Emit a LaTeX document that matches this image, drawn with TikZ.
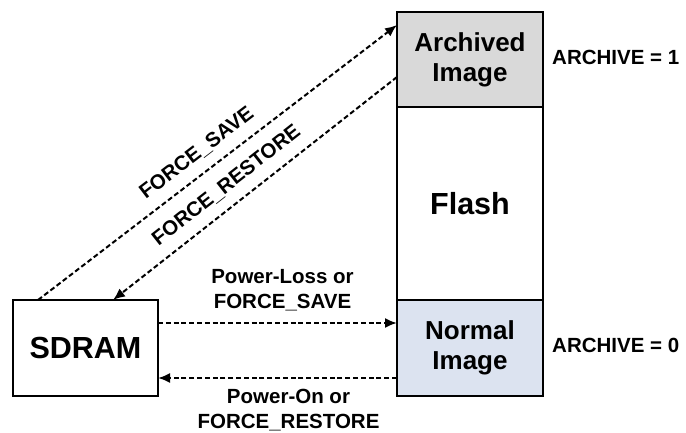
\documentclass[tikz,border=0pt]{standalone}
\usepackage{fontspec}
\setmainfont{Liberation Sans}
\usetikzlibrary{arrows.meta,calc}
\definecolor{archfill}{RGB}{217,217,217}
\definecolor{normfill}{RGB}{220,227,240}
\begin{document}
\begin{tikzpicture}[x=1pt,y=-1pt,
  box/.style={draw=black,line width=2pt,inner sep=0pt,outer sep=0pt,align=center,
    font=\bfseries\fontsize{26}{30}\selectfont},
  bigtext/.style={font=\bfseries\fontsize{30.5}{34}\selectfont},
  conn/.style={line width=2pt,dash pattern=on 5pt off 2.8pt,
    -{Latex[length=12pt,width=10pt]}},
  lbl/.style={font=\bfseries\fontsize{20.5}{25}\selectfont,align=center,inner sep=0pt}]
\useasboundingbox (0,0) rectangle (686,433);
% memory column
\node[box,fill=archfill,minimum width=146pt,minimum height=95pt] (arch) at (470,59.5) {Archived\\Image};
\node[box,bigtext,fill=white,minimum width=146pt,minimum height=193pt] (flash) at (470,203.5) {Flash};
\node[box,fill=normfill,minimum width=146pt,minimum height=96pt] (normal) at (470,348) {Normal\\Image};
\node[box,bigtext,fill=white,minimum width=145pt,minimum height=96pt] (sdram) at (85.5,348) {SDRAM};
% archive flags
\node[lbl,anchor=west] (a1) at ([xshift=9pt,yshift=2pt]arch.east) {ARCHIVE = 1};
\node[lbl,anchor=west] (a0) at ([xshift=9pt,yshift=3pt]normal.east) {ARCHIVE = 0};
% diagonal connectors
\draw[conn] ([xshift=25pt]sdram.north west) -- ([yshift=-13pt]arch.north west)
  node[lbl,sloped,pos=0.476,above=10.5pt] {FORCE\_SAVE};
\draw[conn] ([yshift=30pt]arch.south west) -- ([xshift=100pt]sdram.north west)
  node[lbl,sloped,pos=0.557,above=10.5pt] {FORCE\_RESTORE};
% horizontal connectors
\draw[conn] ([yshift=25pt]sdram.east) -- ([yshift=25pt]normal.west)
  node[lbl,midway,above=11pt,xshift=5pt] {Power-Loss or\\FORCE\_SAVE};
\draw[conn] ([yshift=-30pt]normal.west) -- ([yshift=-30pt]sdram.east)
  node[lbl,midway,below=10.5pt,xshift=11pt] {Power-On or\\FORCE\_RESTORE};
\end{tikzpicture}
\end{document}
